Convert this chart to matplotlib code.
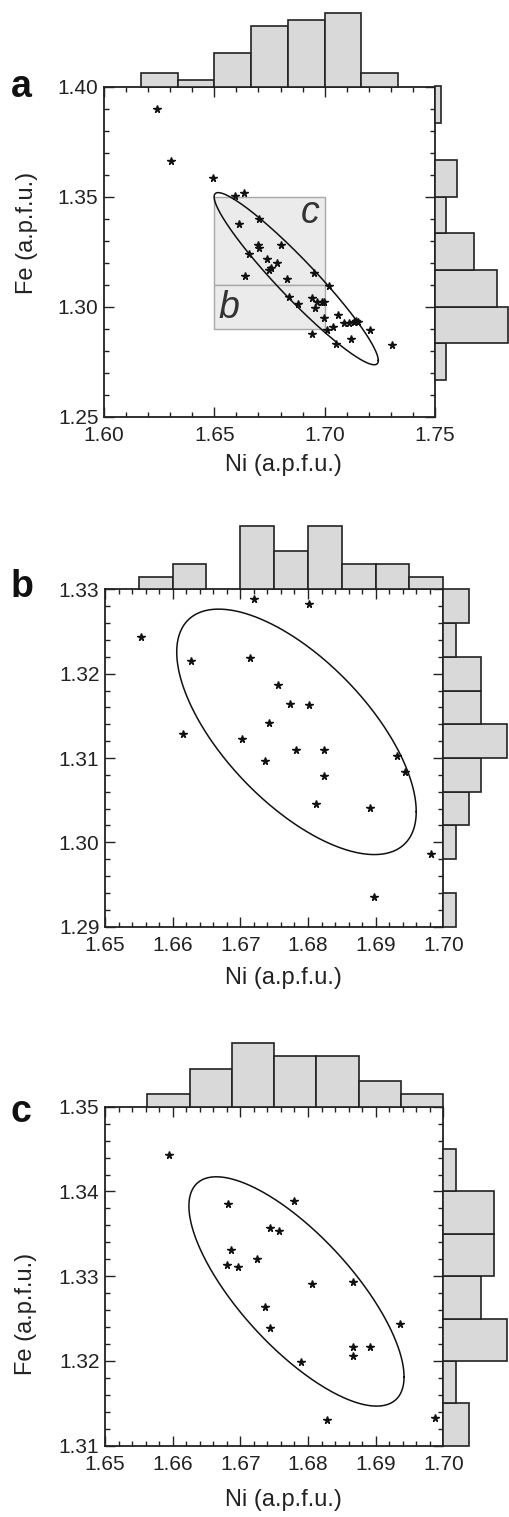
import numpy as np
import matplotlib.pyplot as plt
from matplotlib.ticker import MultipleLocator, FormatStrFormatter
from matplotlib.patches import Rectangle

plt.rcParams['font.family'] = ['Liberation Sans', 'DejaVu Sans']

# ---- panel a : all analyses ----
ni_a = [1.6242, 1.6304, 1.6493, 1.6594, 1.6633, 1.6613, 1.6704, 1.6697, 1.6701, 1.6802,
        1.6656, 1.6739, 1.6784, 1.6757, 1.6749, 1.6639, 1.6831, 1.6953, 1.7018, 1.6840,
        1.6879, 1.6944, 1.6965, 1.6955, 1.6988, 1.6997, 1.6996, 1.7059, 1.7088, 1.7110,
        1.7132, 1.7151, 1.7140, 1.7039, 1.7009, 1.6944, 1.7207, 1.7119, 1.7053, 1.7304]
fe_a = [1.3897, 1.3660, 1.3586, 1.3504, 1.3515, 1.3377, 1.3396, 1.3281, 1.3266, 1.3278,
        1.3241, 1.3217, 1.3196, 1.3175, 1.3165, 1.3137, 1.3126, 1.3152, 1.3095, 1.3043,
        1.3012, 1.3040, 1.3021, 1.2995, 1.3019, 1.3021, 1.2948, 1.2963, 1.2925, 1.2925,
        1.2930, 1.2931, 1.2933, 1.2909, 1.2894, 1.2877, 1.2895, 1.2853, 1.2828, 1.2824]

# ---- panel b ----
ni_b = [1.6720, 1.6801, 1.6553, 1.6627, 1.6715, 1.6756, 1.6774, 1.6801, 1.6743, 1.6615,
        1.6703, 1.6783, 1.6823, 1.6736, 1.6932, 1.6944, 1.6824, 1.6812, 1.6891, 1.6982, 1.6898]
fe_b = [1.3288, 1.3283, 1.3244, 1.3215, 1.3218, 1.3186, 1.3164, 1.3163, 1.3142, 1.3128,
        1.3122, 1.3110, 1.3110, 1.3096, 1.3102, 1.3083, 1.3079, 1.3046, 1.3041, 1.2986, 1.2935]

# ---- panel c ----
ni_c = [1.6594, 1.6682, 1.6779, 1.6744, 1.6757, 1.6686, 1.6681, 1.6697, 1.6725, 1.6806,
        1.6866, 1.6737, 1.6744, 1.6936, 1.6867, 1.6892, 1.6866, 1.6789, 1.6828, 1.6987]
fe_c = [1.3443, 1.3385, 1.3389, 1.3357, 1.3353, 1.3331, 1.3313, 1.3311, 1.3320, 1.3291,
        1.3293, 1.3264, 1.3239, 1.3244, 1.3217, 1.3217, 1.3206, 1.3199, 1.3130, 1.3133]

# ellipses: centre, half extent in x and y, correlation
ell_a = dict(cx=1.6871, cy=1.3127, hx=0.0372, hy=0.0391, rho=-0.95)
ell_b = dict(cx=1.6783, cy=1.3131, hx=0.0177, hy=0.01455, rho=-0.65)
ell_c = dict(cx=1.6783, cy=1.3282, hx=0.0159, hy=0.01353, rho=-0.745)

# sub-regions shown in b and c
box_b = (1.65, 1.70, 1.29, 1.31)
box_c = (1.65, 1.70, 1.31, 1.35)

W, H = 510, 1517
fig = plt.figure(figsize=(W / 100, H / 100), dpi=100)
INK = '#222222'


def rect(l, t, r, b):
    return [l / W, 1 - b / H, (r - l) / W, (b - t) / H]


def panel(box, ni, fe, ell, xlim, ylim, xmaj, ymaj, nbx, nby, top_h, right_w, px_x, px_y):
    l, t, r, b = box
    ax = fig.add_axes(rect(l, t, r, b))
    ax.set_xlim(xlim)
    ax.set_ylim(ylim)
    ax.xaxis.set_major_locator(MultipleLocator(xmaj))
    ax.xaxis.set_minor_locator(MultipleLocator(xmaj / 5))
    ax.yaxis.set_major_locator(MultipleLocator(ymaj))
    ax.yaxis.set_minor_locator(MultipleLocator(ymaj / 5))
    ax.xaxis.set_major_formatter(FormatStrFormatter('%.2f'))
    ax.yaxis.set_major_formatter(FormatStrFormatter('%.2f'))
    ax.tick_params(which='both', direction='in', top=True, right=True, color=INK,
                   labelcolor=INK, labelsize=15, width=1)
    ax.tick_params(which='major', length=7)
    ax.tick_params(which='minor', length=3.5)
    ax.tick_params(axis='x', pad=7)
    ax.tick_params(axis='y', pad=4)
    for s in ax.spines.values():
        s.set_linewidth(1.3)
        s.set_color(INK)

    ax.plot(ni, fe, ls='none', marker='*', ms=5.5, color='#111111', zorder=3)

    tt = np.linspace(0, 2 * np.pi, 400)
    ex = ell['cx'] + ell['hx'] * np.cos(tt)
    ey = ell['cy'] + ell['hy'] * (ell['rho'] * np.cos(tt) + np.sqrt(1 - ell['rho'] ** 2) * np.sin(tt))
    ax.plot(ex, ey, color='#111111', lw=1.1, zorder=2)

    # marginal histograms
    xedges = np.linspace(xlim[0], xlim[1], nbx + 1)
    yedges = np.linspace(ylim[0], ylim[1], nby + 1)
    hx_, _ = np.histogram(ni, bins=xedges)
    hy_, _ = np.histogram(fe, bins=yedges)

    axt = fig.add_axes(rect(l, t - top_h, r, t))
    axt.set_xlim(xlim)
    axt.set_ylim(0, top_h / px_x)
    axt.axis('off')
    k = hx_ > 0
    axt.bar(xedges[:-1][k], hx_[k], width=np.diff(xedges)[k], align='edge',
            color='#d9d9d9', edgecolor=INK, lw=1.2, clip_on=False)

    axr = fig.add_axes(rect(r, t, r + right_w, b))
    axr.set_ylim(ylim)
    axr.set_xlim(0, right_w / px_y)
    axr.axis('off')
    k = hy_ > 0
    axr.barh(yedges[:-1][k], hy_[k], height=np.diff(yedges)[k], align='edge',
             color='#d9d9d9', edgecolor=INK, lw=1.2, clip_on=False)
    return ax


# a
ax_a = panel((104, 86.5, 435, 416.7), ni_a, fe_a, ell_a, (1.60, 1.75), (1.25, 1.40),
             0.05, 0.05, 9, 9, 86.5, 75, 6.7, 5.6)
for (x0, x1, y0, y1), lab in [(box_c, 'c'), (box_b, 'b')]:
    ax_a.add_patch(Rectangle((x0, y0), x1 - x0, y1 - y0, facecolor='#ebebeb',
                             edgecolor='#a8a8a8', lw=1, zorder=1))
ax_a.text(box_c[1] - 0.0065, box_c[3] - 0.0075, 'c', style='italic', fontsize=27,
          color='#333333', ha='center', va='center', zorder=1.5)
ax_a.text(box_b[0] + 0.0065, box_b[2] + 0.0095, 'b', style='italic', fontsize=27,
          color='#333333', ha='center', va='center', zorder=1.5)
ax_a.set_xlabel('Ni (a.p.f.u.)', fontsize=17, color=INK)
ax_a.xaxis.set_label_coords(0.542, -0.112)
ax_a.set_ylabel('Fe (a.p.f.u.)', fontsize=17, color=INK)
ax_a.yaxis.set_label_coords(-0.2, 0.556)

# b
ax_b = panel((105, 589.3, 443.3, 926.7), ni_b, fe_b, ell_b, (1.65, 1.70), (1.29, 1.33),
             0.01, 0.01, 10, 10, 80, 66.7, 12.7, 12.7)
ax_b.set_xlabel('Ni (a.p.f.u.)', fontsize=17, color=INK)
ax_b.xaxis.set_label_coords(0.528, -0.118)

# c
ax_c = panel((105, 1106.7, 443.3, 1445.7), ni_c, fe_c, ell_c, (1.65, 1.70), (1.31, 1.35),
             0.01, 0.01, 8, 8, 80, 66.7, 12.7, 12.7)
ax_c.set_xlabel('Ni (a.p.f.u.)', fontsize=17, color=INK)
ax_c.xaxis.set_label_coords(0.528, -0.127)
ax_c.set_ylabel('Fe (a.p.f.u.)', fontsize=17, color=INK)
ax_c.yaxis.set_label_coords(-0.2, 0.389)

# panel letters
for lab, ybase in [('a', 97), ('b', 596.7), ('c', 1121.7)]:
    fig.text(11 / W, 1 - ybase / H, lab, fontsize=27, fontweight='bold', color='#111111',
             ha='left', va='baseline')

fig.savefig('out.png', dpi=100)
